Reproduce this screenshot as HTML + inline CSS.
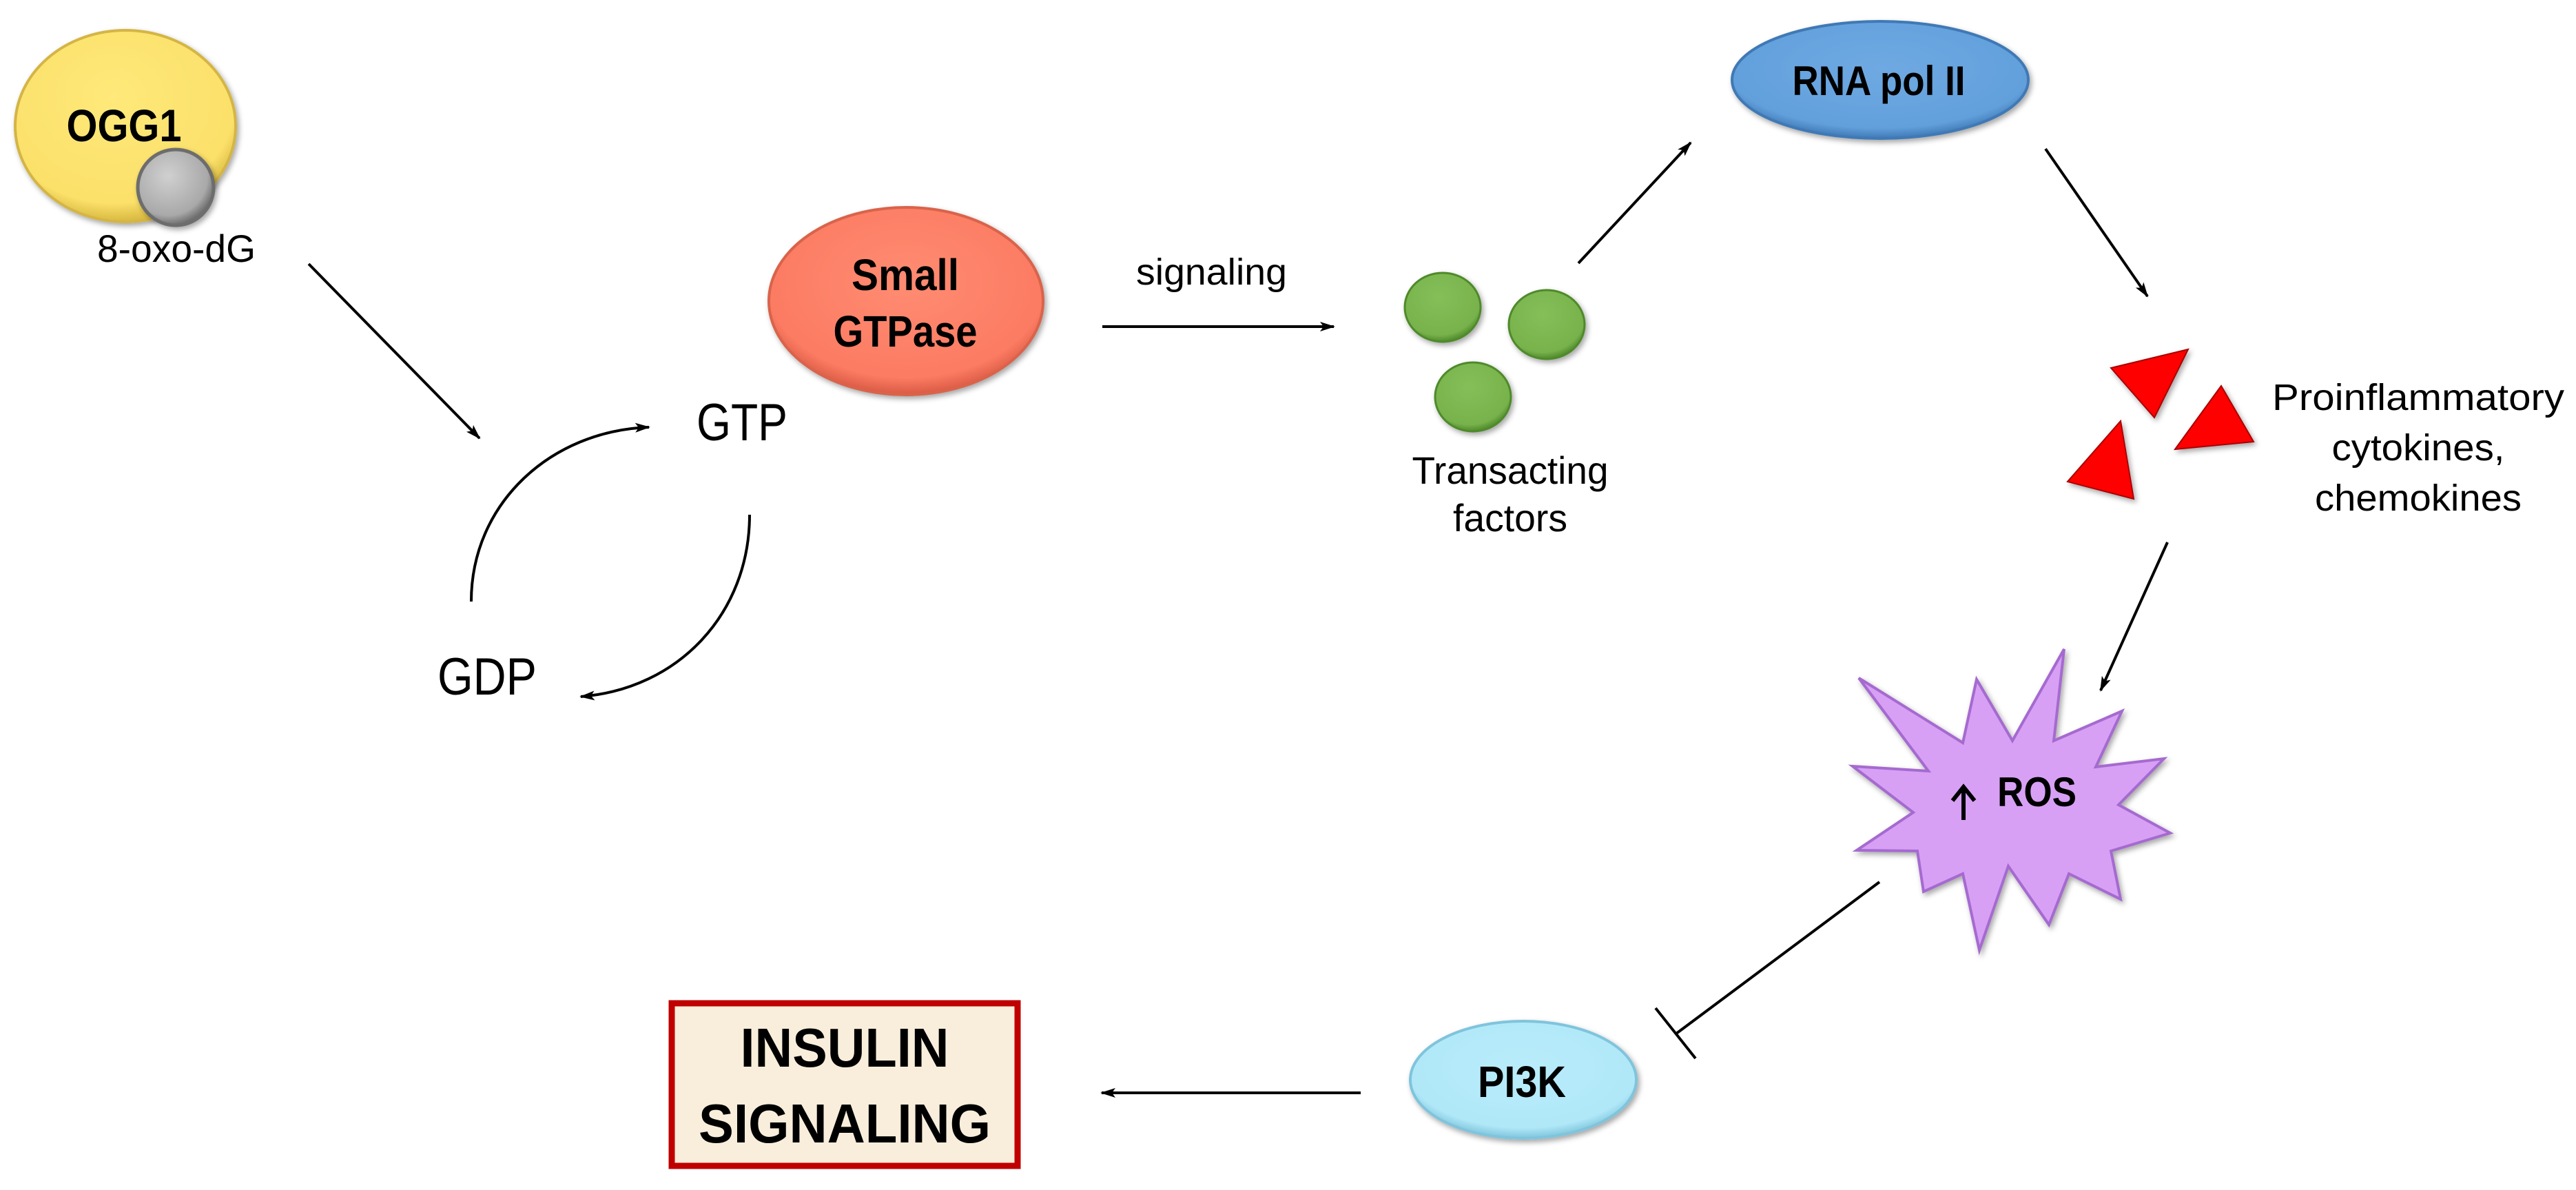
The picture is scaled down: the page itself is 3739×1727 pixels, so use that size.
<!DOCTYPE html>
<html><head><meta charset="utf-8"><style>html,body{margin:0;padding:0;background:#fff}svg{display:block}</style></head>
<body>
<svg xmlns="http://www.w3.org/2000/svg" width="3739" height="1727" viewBox="0 0 3739 1727">
<defs>
<marker id="ah" markerUnits="userSpaceOnUse" markerWidth="24" markerHeight="16" refX="20" refY="8" orient="auto"><path d="M0,1 L22,8 L0,15 L5,8 Z" fill="#000"/></marker>
<radialGradient id="gy" cx="45%" cy="35%" r="65%"><stop offset="0" stop-color="#ffe97a"/><stop offset="0.85" stop-color="#fbe06a"/><stop offset="1" stop-color="#d8b940"/></radialGradient>
<radialGradient id="gg" cx="40%" cy="35%" r="65%"><stop offset="0" stop-color="#d0d0d0"/><stop offset="0.8" stop-color="#a9a9a9"/><stop offset="1" stop-color="#6e6e6e"/></radialGradient>
<radialGradient id="gr" cx="50%" cy="40%" r="60%"><stop offset="0" stop-color="#ff8c72"/><stop offset="0.85" stop-color="#fb7b62"/><stop offset="1" stop-color="#d95a43"/></radialGradient>
<radialGradient id="gb" cx="50%" cy="40%" r="60%"><stop offset="0" stop-color="#6fa9e2"/><stop offset="0.85" stop-color="#62a0dc"/><stop offset="1" stop-color="#3f79b5"/></radialGradient>
<radialGradient id="gc" cx="50%" cy="40%" r="60%"><stop offset="0" stop-color="#b9ecfb"/><stop offset="0.85" stop-color="#b0e8f8"/><stop offset="1" stop-color="#7fc4dc"/></radialGradient>
<radialGradient id="gn" cx="45%" cy="35%" r="65%"><stop offset="0" stop-color="#85bf58"/><stop offset="0.85" stop-color="#78b24c"/><stop offset="1" stop-color="#4f8a2c"/></radialGradient>
<filter id="sh" x="-20%" y="-20%" width="140%" height="140%"><feDropShadow dx="3" dy="4" stdDeviation="4" flood-color="#000" flood-opacity="0.35"/></filter>
</defs>

<g font-family="'Liberation Sans', sans-serif" fill="#000">
<ellipse cx="182" cy="183" rx="160" ry="139" fill="url(#gy)" stroke="#d4b545" stroke-width="4" filter="url(#sh)"/>
<text x="180" y="205" font-size="66" font-weight="bold" text-anchor="middle" textLength="167" lengthAdjust="spacingAndGlyphs">OGG1</text>
<circle cx="255" cy="272" r="55" fill="url(#gg)" stroke="#6d6d6d" stroke-width="5" filter="url(#sh)"/>
<text x="256" y="380" font-size="56" text-anchor="middle" textLength="230" lengthAdjust="spacingAndGlyphs">8-oxo-dG</text>

<line x1="448" y1="383" x2="696" y2="636" stroke="#000" stroke-width="4" marker-end="url(#ah)"/>

<text x="1077" y="639" font-size="76" text-anchor="middle" textLength="132" lengthAdjust="spacingAndGlyphs">GTP</text>
<text x="707" y="1008" font-size="76" text-anchor="middle" textLength="144" lengthAdjust="spacingAndGlyphs">GDP</text>
<path d="M684,873 C684,730 800,625 942,620" fill="none" stroke="#000" stroke-width="4" marker-end="url(#ah)"/>
<path d="M1088,747 C1088,890 985,1000 843,1011" fill="none" stroke="#000" stroke-width="4" marker-end="url(#ah)"/>

<ellipse cx="1315" cy="437" rx="199" ry="136" fill="url(#gr)" stroke="#d9634b" stroke-width="4" filter="url(#sh)"/>
<text x="1314" y="421" font-size="64" font-weight="bold" text-anchor="middle" textLength="156" lengthAdjust="spacingAndGlyphs">Small</text>
<text x="1314" y="503" font-size="64" font-weight="bold" text-anchor="middle" textLength="209" lengthAdjust="spacingAndGlyphs">GTPase</text>

<text x="1649" y="413" font-size="54" textLength="219" lengthAdjust="spacingAndGlyphs">signaling</text>
<line x1="1600" y1="474" x2="1936" y2="474" stroke="#000" stroke-width="4" marker-end="url(#ah)"/>

<ellipse cx="2094" cy="446" rx="55" ry="50" fill="url(#gn)" stroke="#4f8a2c" stroke-width="3" filter="url(#sh)"/>
<ellipse cx="2245" cy="471" rx="55" ry="50" fill="url(#gn)" stroke="#4f8a2c" stroke-width="3" filter="url(#sh)"/>
<ellipse cx="2138" cy="576" rx="55" ry="50" fill="url(#gn)" stroke="#4f8a2c" stroke-width="3" filter="url(#sh)"/>
<text x="2192" y="702" font-size="56" text-anchor="middle" textLength="285" lengthAdjust="spacingAndGlyphs">Transacting</text>
<text x="2192" y="771" font-size="56" text-anchor="middle" textLength="166" lengthAdjust="spacingAndGlyphs">factors</text>

<line x1="2291" y1="382" x2="2454" y2="207" stroke="#000" stroke-width="4" marker-end="url(#ah)"/>

<ellipse cx="2729" cy="116" rx="215" ry="85" fill="url(#gb)" stroke="#3f79b5" stroke-width="4" filter="url(#sh)"/>
<text x="2727" y="138" font-size="60" font-weight="bold" text-anchor="middle" textLength="251" lengthAdjust="spacingAndGlyphs">RNA pol II</text>

<line x1="2969" y1="216" x2="3117" y2="430" stroke="#000" stroke-width="4" marker-end="url(#ah)"/>

<g fill="#f00" stroke="#a00" stroke-width="2" filter="url(#sh)">
<polygon points="3064,534 3176,507 3127,606"/>
<polygon points="3224,560 3271,641 3157,652"/>
<polygon points="3078,611 3097,724 3001,699"/>
</g>
<text x="3510" y="595" font-size="54" text-anchor="middle" textLength="424" lengthAdjust="spacingAndGlyphs">Proinflammatory</text>
<text x="3510" y="668" font-size="54" text-anchor="middle" textLength="251" lengthAdjust="spacingAndGlyphs">cytokines,</text>
<text x="3510" y="741" font-size="54" text-anchor="middle" textLength="300" lengthAdjust="spacingAndGlyphs">chemokines</text>

<line x1="3146" y1="787" x2="3049" y2="1002" stroke="#000" stroke-width="4" marker-end="url(#ah)"/>

<polygon points="2698,984 2849,1078 2869,986 2921,1075 2996,942 2981,1075 3080,1032 3042,1113 3141,1101 3075,1168 3150,1209 3064,1235 3078,1305 3003,1268 2974,1342 2915,1257 2873,1379 2849,1268 2792,1294 2783,1235 2695,1234 2777,1179 2689,1112 2799,1119" fill="#d7a0f5" stroke="#a56bcf" stroke-width="4" stroke-linejoin="miter" filter="url(#sh)"/>
<path d="M2850,1190 L2850,1146 M2834,1162 L2850,1142 L2866,1162" fill="none" stroke="#000" stroke-width="6"/>
<text x="2899" y="1170" font-size="60" font-weight="bold" textLength="115" lengthAdjust="spacingAndGlyphs">ROS</text>

<line x1="2728" y1="1280" x2="2433" y2="1500" stroke="#000" stroke-width="4"/>
<line x1="2403" y1="1463" x2="2461" y2="1536" stroke="#000" stroke-width="4"/>

<ellipse cx="2211" cy="1567" rx="164" ry="85" fill="url(#gc)" stroke="#7fc4dc" stroke-width="4" filter="url(#sh)"/>
<text x="2209" y="1592" font-size="64" font-weight="bold" text-anchor="middle" textLength="128" lengthAdjust="spacingAndGlyphs">PI3K</text>

<line x1="1975" y1="1586" x2="1599" y2="1586" stroke="#000" stroke-width="4" marker-end="url(#ah)"/>

<rect x="975" y="1456" width="502" height="236" fill="#f8eedb" stroke="#c00000" stroke-width="9"/>
<text x="1226" y="1548" font-size="80" font-weight="bold" text-anchor="middle" textLength="303" lengthAdjust="spacingAndGlyphs">INSULIN</text>
<text x="1226" y="1658" font-size="80" font-weight="bold" text-anchor="middle" textLength="424" lengthAdjust="spacingAndGlyphs">SIGNALING</text>
</g>
</svg>
</body></html>
